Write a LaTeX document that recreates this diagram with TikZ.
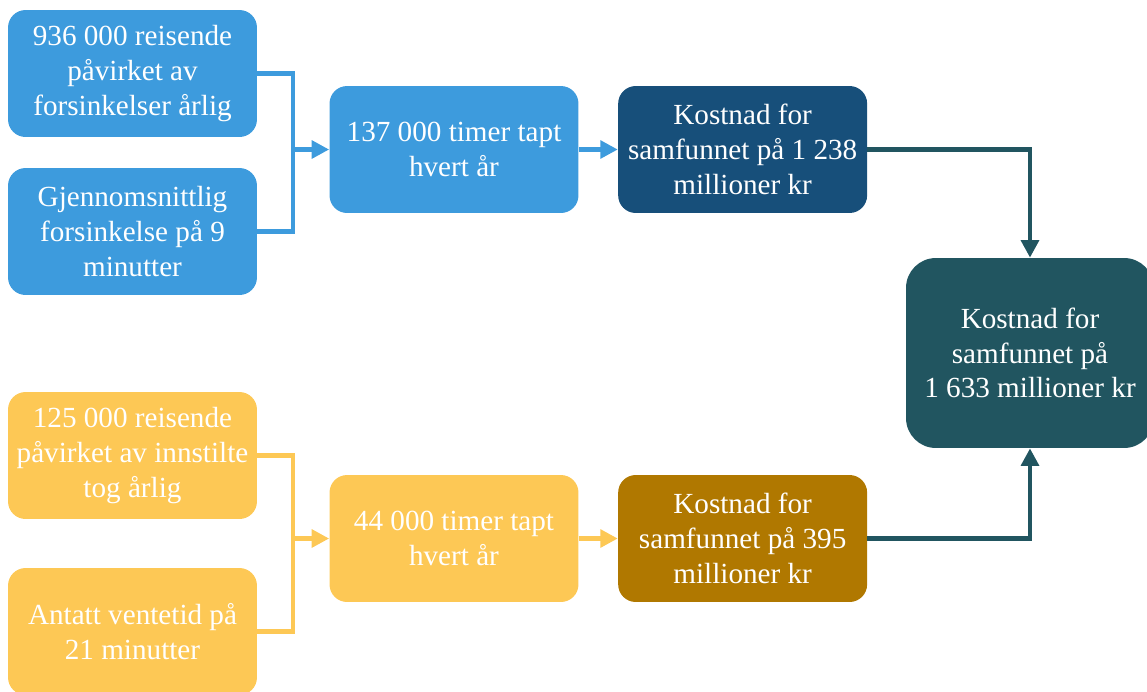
\documentclass[tikz,border=0pt]{standalone}
\usepackage{fontspec}
\setmainfont{Liberation Serif}
\usepackage{xcolor}
\usepackage{tikz}
\usetikzlibrary{arrows.meta, positioning, calc}
\definecolor{lblue}{HTML}{3D9BDD}
\definecolor{dblue}{HTML}{174F7A}
\definecolor{lyellow}{HTML}{FDC855}
\definecolor{dbrown}{HTML}{B07800}
\definecolor{dteal}{HTML}{215560}
\tikzset{
  blk/.style={
    rectangle, draw=none, fill=#1, text=white,
    minimum width=4.98cm, minimum height=2.54cm,
    align=center, rounded corners=10pt,
    inner sep=0pt,
    font=\fontsize{16.6}{19.8}\selectfont
  },
  arr/.style={line width=2.8pt, -{Triangle[length=10pt,width=10pt]}, draw=#1},
  lnk/.style={line width=2.8pt, draw=#1}
}
\begin{document}
\begin{tikzpicture}[x=0.02cm, y=-0.02cm,
    tblk/.style={blk=dteal, minimum width=4.96cm, minimum height=3.8cm,
                 rounded corners=17pt}
  ]
  \useasboundingbox (0,0) rectangle (1147,691);

  % delays (top row)
  \node[blk=lblue] (b1) at (132.5,73.5) {936 000 reisende\\påvirket av\\forsinkelser årlig};
  \node[blk=lblue] (b2) at (132.5,231.5) {Gjennomsnittlig\\forsinkelse på 9\\minutter};
  \node[blk=lblue] (bmid) at (454,149.5) {137 000 timer tapt\\hvert år};
  \node[blk=dblue, right=0.78cm of bmid] (bcost) {Kostnad for\\samfunnet på 1 238\\millioner kr};

  % cancellations (bottom row)
  \node[blk=lyellow] (y1) at (132.5,455.5) {125 000 reisende\\påvirket av innstilte\\tog årlig};
  \node[blk=lyellow] (y2) at (132.5,631.5) {Antatt ventetid på\\21 minutter};
  \node[blk=lyellow] (ymid) at (454,538.5) {44 000 timer tapt\\hvert år};
  \node[blk=dbrown, right=0.78cm of ymid] (ycost) {Kostnad for\\samfunnet på 395\\millioner kr};

  % total
  \node[tblk] (total) at (1030,353) {Kostnad for\\samfunnet på\\1 633 millioner kr};

  \coordinate (bj) at (293,149.5);
  \coordinate (yj) at (293,538.5);

  \draw[lnk=lblue] (b1.east) -| (bj) |- (b2.east);
  \draw[arr=lblue] (bj) -- (bmid.west);
  \draw[arr=lblue] (bmid) -- (bcost);

  \draw[lnk=lyellow] (y1.east) -| (yj) |- (y2.east);
  \draw[arr=lyellow] (yj) -- (ymid.west);
  \draw[arr=lyellow] (ymid) -- (ycost);

  \draw[arr=dteal] (bcost.east) -| (total.north);
  \draw[arr=dteal] (ycost.east) -| (total.south);
\end{tikzpicture}
\end{document}
